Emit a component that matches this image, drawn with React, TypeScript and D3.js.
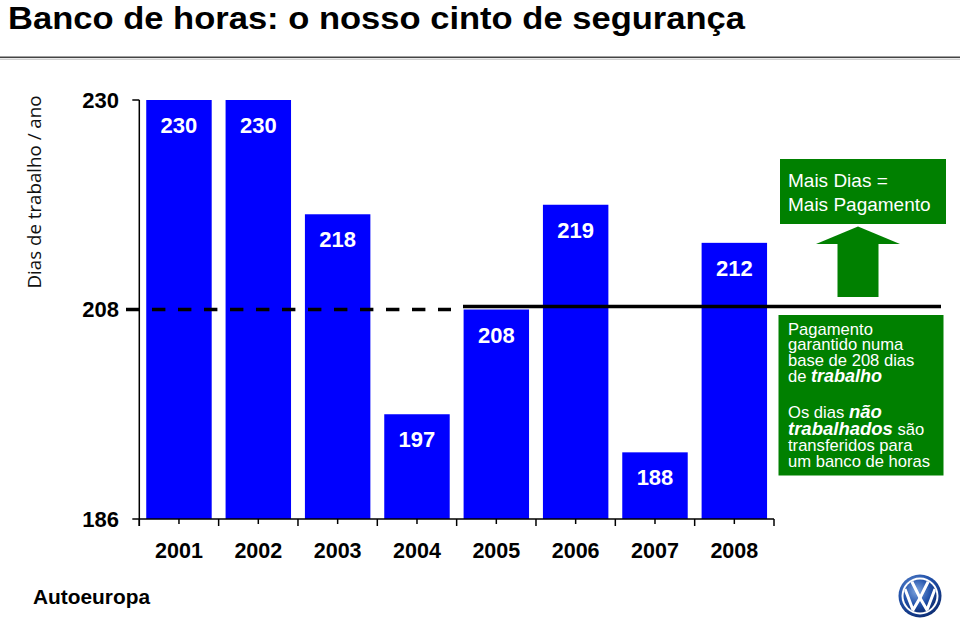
import React from "react";
import * as d3 from "d3";

const years = ["2001", "2002", "2003", "2004", "2005", "2006", "2007", "2008"];
// bar heights as drawn in the picture
const barValues = [230, 230, 218, 197, 208, 219, 193, 215];
// value labels as printed on the bars
const labelValues = [230, 230, 218, 197, 208, 219, 188, 212];
const yTicks = [186, 208, 230];
const baseValue = 208;

const W = 960;
const H = 618;
const BLUE = "#0000FF";
const GREEN = "#008000";
const SANS = "'Liberation Sans', Arial, sans-serif";

export default function App() {
  const x = d3
    .scaleBand<string>()
    .domain(years)
    .range([139.3, 774])
    .paddingInner(0.175)
    .paddingOuter(0.0875);
  const y = d3.scaleLinear().domain([186, 230]).range([519, 100]);
  const step = x.step();
  const x0 = x.range()[0];
  const x1 = x.range()[1];
  const majors = d3.range(years.length + 1).map((i) => x0 + i * step);
  const minors = years.map((yr) => (x(yr) as number) + x.bandwidth() / 2);
  const yb = y(baseValue);

  return (
    <svg
      width={W}
      height={H}
      viewBox={`0 0 ${W} ${H}`}
      style={{ position: "absolute", left: 0, top: 0, background: "#fff" }}
      fontFamily={SANS}
    >
      <defs>
        <radialGradient id="vwg" cx="40%" cy="35%" r="70%">
          <stop offset="0%" stopColor="#7fa6e0" />
          <stop offset="60%" stopColor="#1f4fa8" />
          <stop offset="100%" stopColor="#0c2a6e" />
        </radialGradient>
        <clipPath id="vwclip">
          <circle cx={920} cy={596} r={16.5} />
        </clipPath>
      </defs>

      {/* Title */}
      <text
        x={8}
        y={28.5}
        fontSize={32}
        fontWeight="bold"
        fill="#000"
        textLength={737}
        lengthAdjust="spacingAndGlyphs"
      >
        Banco de horas: o nosso cinto de segurança
      </text>
      <line x1={0} x2={960} y1={57.3} y2={57.3} stroke="#444" strokeWidth={1.6} />
      <line x1={0} x2={960} y1={59.2} y2={59.2} stroke="#bbb" strokeWidth={1} />

      {/* Y axis title */}
      <text
        transform={`translate(40.5,192) rotate(-90)`}
        textAnchor="middle"
        fontSize={17.5}
        fontFamily="'Open Sans', 'Noto Sans', sans-serif"
        fill="#111"
        textLength={193}
        lengthAdjust="spacingAndGlyphs"
      >
        Dias de trabalho / ano
      </text>

      {/* Bars */}
      {years.map((yr, i) => (
        <rect
          key={yr}
          x={x(yr)}
          y={y(barValues[i])}
          width={x.bandwidth()}
          height={y(186) - y(barValues[i])}
          fill={BLUE}
        />
      ))}

      {/* Bar labels */}
      {years.map((yr, i) => (
        <text
          key={"l" + yr}
          x={(x(yr) as number) + x.bandwidth() / 2}
          y={y(barValues[i]) + 33}
          textAnchor="middle"
          fontSize={22}
          fontWeight="bold"
          fill="#fff"
        >
          {labelValues[i]}
        </text>
      ))}

      {/* Y axis */}
      <line x1={x0} x2={x0} y1={y(230)} y2={526} stroke="#000" strokeWidth={1.5} />
      {yTicks.map((t) => (
        <g key={t}>
          {t !== baseValue && (
            <line x1={x0 - 7} x2={x0} y1={y(t)} y2={y(t)} stroke="#000" strokeWidth={1.5} />
          )}
          <text
            x={119}
            y={y(t)}
            dy="0.36em"
            textAnchor="end"
            fontSize={22}
            fontWeight="bold"
            fill="#000"
          >
            {t}
          </text>
        </g>
      ))}

      {/* X axis */}
      <line x1={x0} x2={x1} y1={y(186)} y2={y(186)} stroke="#000" strokeWidth={1.5} />
      {majors.map((mx, i) => (
        <line key={"M" + i} x1={mx} x2={mx} y1={y(186)} y2={y(186) + 7} stroke="#000" strokeWidth={1.5} />
      ))}
      {minors.map((mx, i) => (
        <line key={"m" + i} x1={mx} x2={mx} y1={y(186)} y2={y(186) + 5} stroke="#000" strokeWidth={1.5} />
      ))}
      {years.map((yr) => (
        <text
          key={"t" + yr}
          x={(x(yr) as number) + x.bandwidth() / 2}
          y={558}
          textAnchor="middle"
          fontSize={21.5}
          fontWeight="bold"
          fill="#000"
        >
          {yr}
        </text>
      ))}

      {/* 208 reference line */}
      <line
        x1={126}
        x2={451}
        y1={yb}
        y2={yb}
        stroke="#000"
        strokeWidth={3.6}
        strokeDasharray="13.4 12.6"
      />
      <line x1={463} x2={941} y1={yb - 3} y2={yb - 3} stroke="#000" strokeWidth={3.6} />

      {/* Annotation: top box */}
      <rect x={780} y={159} width={166} height={65} fill={GREEN} />
      <text x={788} y={187} fontSize={19} fill="#fff">Mais Dias =</text>
      <text x={788} y={210.5} fontSize={19} fill="#fff">Mais Pagamento</text>

      {/* Arrow */}
      <polygon points="816,244 858,226.5 900,244" fill={GREEN} />
      <rect x={837.5} y={243.5} width={41} height={53.5} fill={GREEN} />

      {/* Annotation: bottom box */}
      <rect x={778.5} y={315} width={165} height={160.5} fill={GREEN} />
      <g fill="#fff" fontSize={16.6}>
        <text x={788} y={334.5}>Pagamento</text>
        <text x={788} y={350}>garantido numa</text>
        <text x={788} y={365.5}>base de 208 dias</text>
        <text x={788} y={382}>
          de{" "}
          <tspan fontWeight="bold" fontStyle="italic" fontSize={18}>trabalho</tspan>
        </text>
        <text x={788} y={418}>
          Os dias{" "}
          <tspan fontWeight="bold" fontStyle="italic" fontSize={18.5}>não</tspan>
        </text>
        <text x={788} y={435}>
          <tspan fontWeight="bold" fontStyle="italic" fontSize={18.5}>trabalhados</tspan> são
        </text>
        <text x={788} y={451}>transferidos para</text>
        <text x={788} y={467}>um banco de horas</text>
      </g>

      {/* Footer */}
      <text x={33} y={604} fontSize={20} fontWeight="bold" fill="#000" textLength={117} lengthAdjust="spacingAndGlyphs">
        Autoeuropa
      </text>

      {/* VW logo */}
      <g>
        <circle cx={920} cy={596} r={21.5} fill="url(#vwg)" />
        <circle cx={920} cy={596} r={18.5} fill="#fff" />
        <circle cx={920} cy={596} r={16.5} fill="url(#vwg)" />
        <g clipPath="url(#vwclip)" fill="none" stroke="#fff" strokeWidth={3} strokeLinejoin="miter">
          <polyline points="911,580 920,598 929,580" />
          <polyline points="905,589 913,610 920,598 927,610 935,589" />
        </g>
      </g>
    </svg>
  );
}
